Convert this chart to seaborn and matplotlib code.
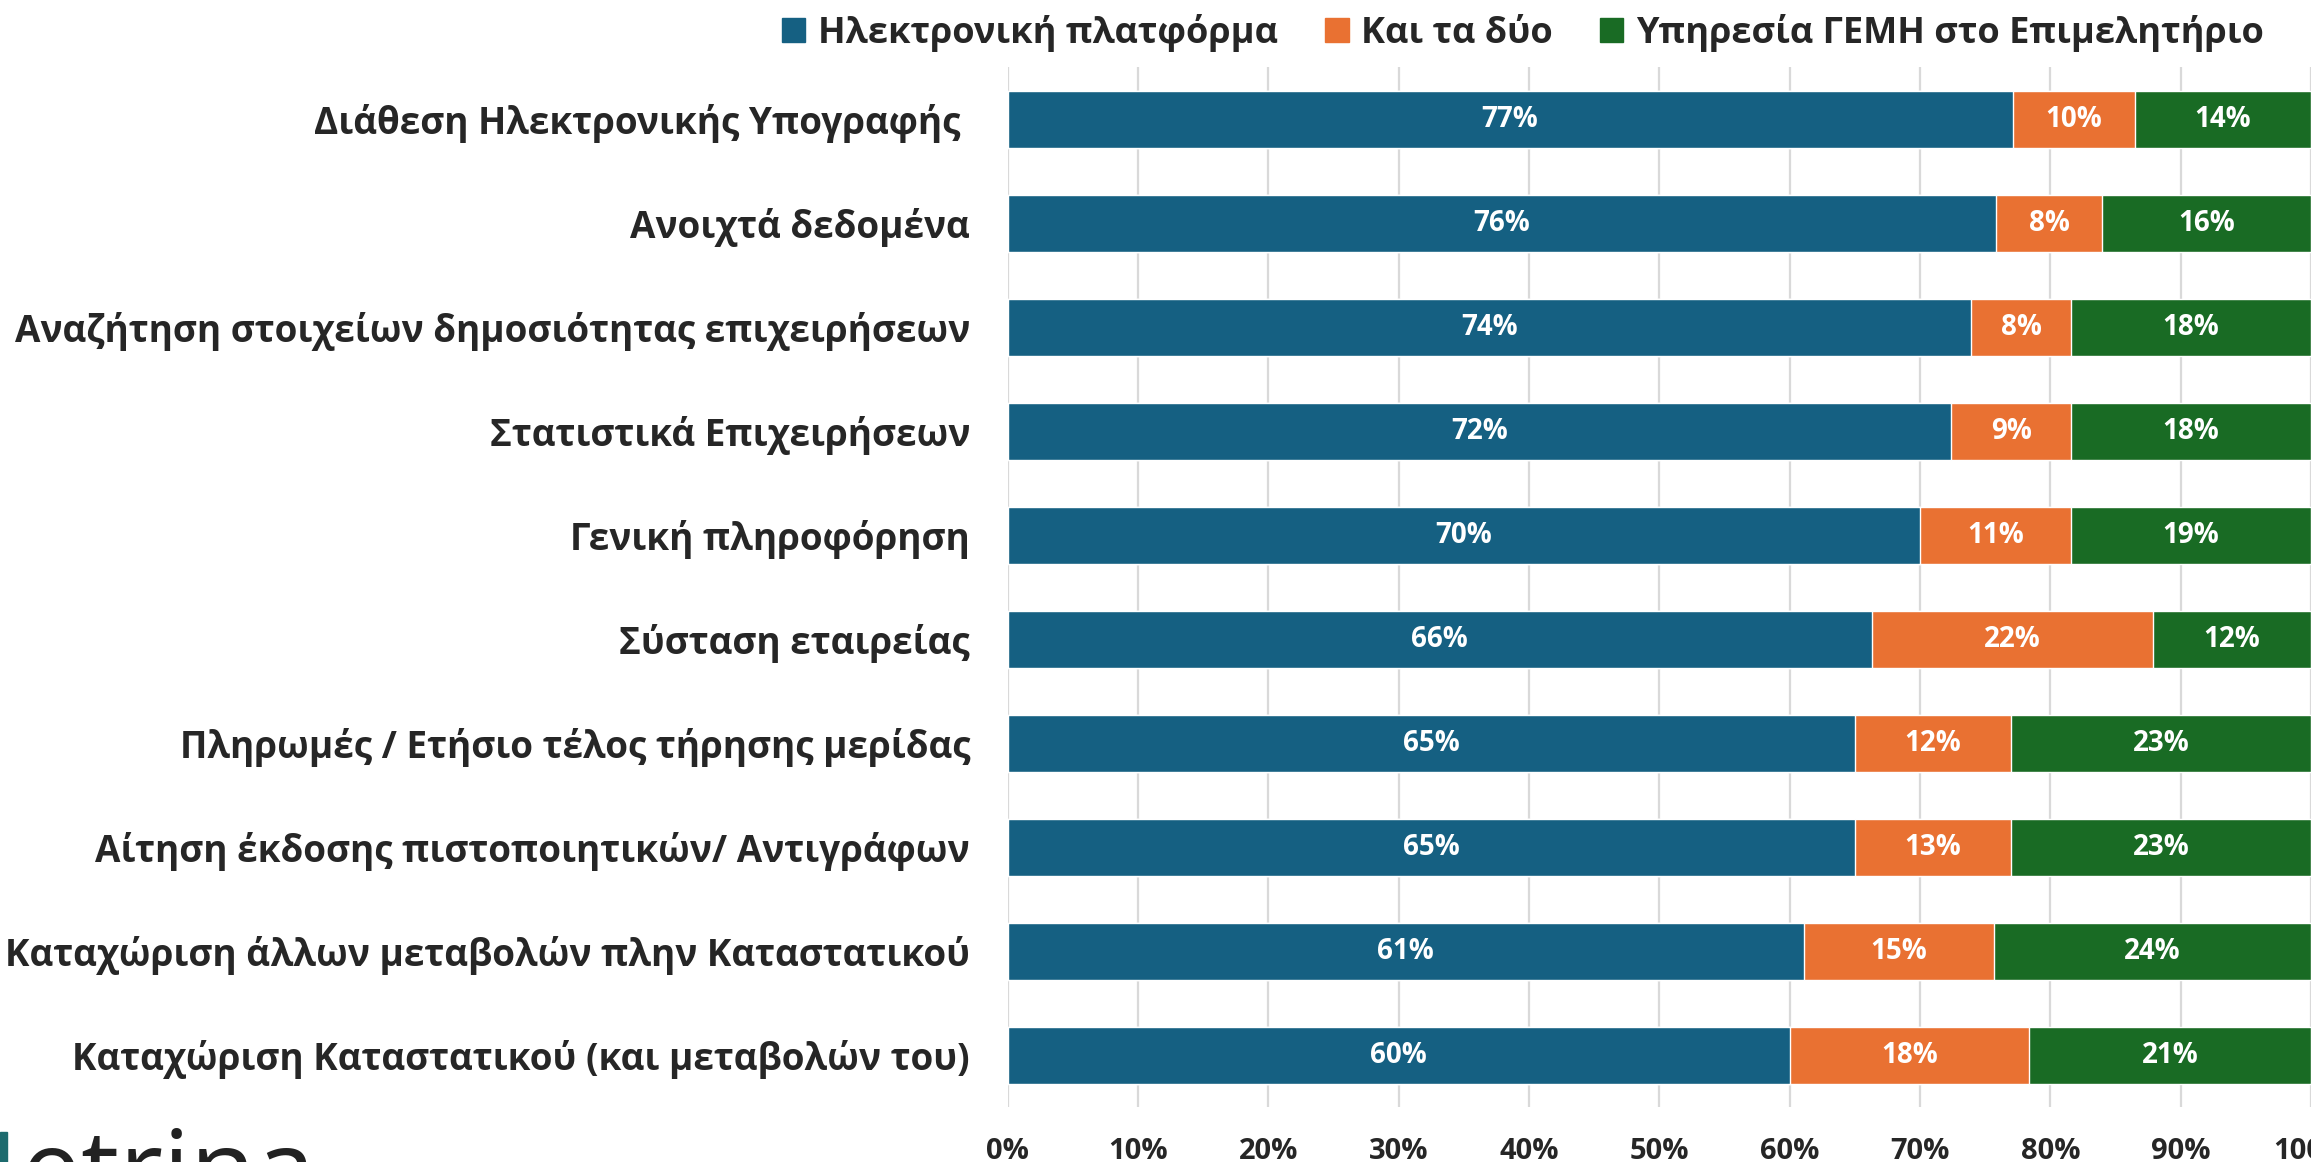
import pandas as pd
import matplotlib.pyplot as plt
import matplotlib.patches as mpatches
import seaborn as sns

# categories (top to bottom as in the chart)
categories = [
    "Διάθεση Ηλεκτρονικής Υπογραφής ",
    "Ανοιχτά δεδομένα",
    "Αναζήτηση στοιχείων δημοσιότητας επιχειρήσεων",
    "Στατιστικά Επιχειρήσεων",
    "Γενική πληροφόρηση",
    "Σύσταση εταιρείας",
    "Πληρωμές / Ετήσιο τέλος τήρησης μερίδας",
    "Αίτηση έκδοσης πιστοποιητικών/ Αντιγράφων",
    "Καταχώριση άλλων μεταβολών πλην Καταστατικού",
    "Καταχώριση Καταστατικού (και μεταβολών του)",
]

# segment lengths (%)
platform = [77.1, 75.8, 73.9, 72.4, 70.0, 66.3, 65.0, 65.0, 61.1, 60.0]
both = [9.4, 8.2, 7.7, 9.2, 11.6, 21.6, 12.0, 12.0, 14.6, 18.4]
office = [13.5, 16.0, 18.4, 18.4, 18.4, 12.1, 23.0, 23.0, 24.3, 21.6]

# printed data labels (%)
platform_labels = [77, 76, 74, 72, 70, 66, 65, 65, 61, 60]
both_labels = [10, 8, 8, 9, 11, 22, 12, 13, 15, 18]
office_labels = [14, 16, 18, 18, 19, 12, 23, 23, 24, 21]

series_names = ["Ηλεκτρονική πλατφόρμα", "Και τα δύο", "Υπηρεσία ΓΕΜΗ στο Επιμελητήριο"]
colors = ["#156082", "#E97132", "#196B24"]

x_ticks = [0, 10, 20, 30, 40, 50, 60, 70, 80, 90, 100]

sns.set_style("white")
plt.rcParams["font.family"] = ["Open Sans", "DejaVu Sans"]

df = pd.DataFrame({
    "category": categories,
    "platform": platform,
    "both": both,
    "office": office,
})
df["cum1"] = df["platform"]
df["cum2"] = df["cum1"] + df["both"]
df["cum3"] = df["cum2"] + df["office"]

fig = plt.figure(figsize=(23.11, 11.62), dpi=100)
ax = fig.add_axes([0.436, 0.047, 0.564, 0.895])

# stacked bars: draw cumulative totals from the back to the front
for col, color in zip(["cum3", "cum2", "cum1"], colors[::-1]):
    sns.barplot(data=df, x=col, y="category", color=color, saturation=1,
                width=0.55, errorbar=None, orient="h", ax=ax)

#data labels in the middle of every segment
segs = [("platform", platform_labels), ("both", both_labels), ("office", office_labels)]
for i, row in df.iterrows():
    left = 0
    for col, labs in segs:
        val = row[col]
        ax.text(left + val / 2, i, f"{labs[i]}%", ha="center", va="center",
                color="white", fontsize=20, fontweight="bold")
        left += val

ax.set_xlim(0, 100)
ax.set_ylim(len(categories) - 0.5, -0.5)
ax.set_xticks(x_ticks)
ax.set_xticklabels([f"{t}%" for t in x_ticks])
ax.set_xlabel("")
ax.set_ylabel("")
ax.xaxis.grid(True, color="#D9D9D9", linewidth=1.6)
ax.yaxis.grid(False)
ax.set_axisbelow(True)
sns.despine(ax=ax, left=True, bottom=True)
ax.tick_params(axis="x", length=0, pad=21, labelsize=21)
ax.tick_params(axis="y", length=0, pad=27, labelsize=26.6)
for lab in ax.get_xticklabels() + ax.get_yticklabels():
    lab.set_fontweight("bold")

handles = [mpatches.Patch(color=c, label=n) for c, n in zip(colors, series_names)]
fig.legend(handles=handles, loc="center", bbox_to_anchor=(0.659, 0.972), ncol=3,
           frameon=False, prop={"weight": "bold", "size": 26},
           handlelength=0.65, handleheight=0.65, handletextpad=0.35,
           columnspacing=1.3, borderaxespad=0)

# cropped logo at the lower left corner
fig.patches.append(mpatches.Rectangle((0, 0), 0.003, 0.026, transform=fig.transFigure,
                                      color="#1d6b6e", zorder=3))
fig.text(0.009, -0.038, "etrina", fontsize=77, color="#222222",
         family=["Open Sans", "DejaVu Sans"], va="baseline", ha="left")

fig.savefig("out.png", dpi=100)
